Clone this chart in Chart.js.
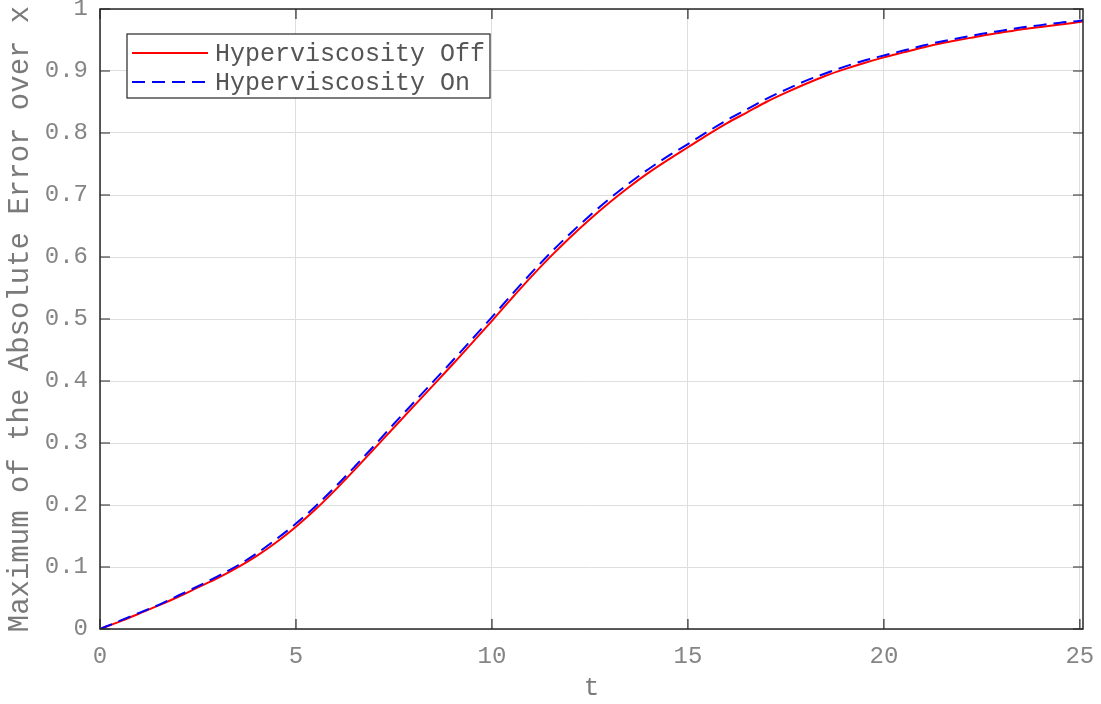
<!DOCTYPE html>
<html><head><meta charset="utf-8">
<script src="https://cdn.jsdelivr.net/npm/chart.js@4"></script>
<style>html,body{margin:0;padding:0;background:#fff}#wrap{width:1101px;height:704px}</style>
</head><body><div id="wrap"><canvas id="c" width="1101" height="704"></canvas></div>
<script>
const tValues = [0,0.5,1,1.5,2,2.5,3,3.5,4,4.5,5,5.5,6,6.5,7,7.5,8,8.5,9,9.5,10,10.5,11,11.5,12,12.5,13,13.5,14,14.5,15,15.5,16,16.5,17,17.5,18,18.5,19,19.5,20,20.5,21,21.5,22,22.5,23,23.5,24,24.5,25,25.08];
const offValues = [0,0.012,0.025,0.038,0.052,0.067,0.082,0.099,0.118,0.140,0.165,0.193,0.224,0.257,0.291,0.325,0.359,0.393,0.427,0.462,0.497,0.533,0.568,0.601,0.632,0.661,0.688,0.713,0.736,0.757,0.777,0.797,0.816,0.833,0.850,0.865,0.879,0.892,0.903,0.913,0.922,0.930,0.938,0.945,0.951,0.957,0.962,0.967,0.971,0.975,0.979,0.980];
const onValues = [0,0.013,0.026,0.039,0.054,0.069,0.085,0.102,0.122,0.145,0.170,0.198,0.229,0.262,0.296,0.331,0.365,0.399,0.433,0.468,0.503,0.539,0.574,0.607,0.638,0.667,0.694,0.719,0.742,0.763,0.782,0.802,0.821,0.838,0.855,0.870,0.884,0.896,0.907,0.917,0.925,0.933,0.941,0.948,0.954,0.960,0.965,0.970,0.974,0.978,0.981,0.982];
const xTicks = [0,5,10,15,20,25];
const yTicks = [0,0.1,0.2,0.3,0.4,0.5,0.6,0.7,0.8,0.9,1];
const yTickLabels = ['0','0.1','0.2','0.3','0.4','0.5','0.6','0.7','0.8','0.9','1'];
const seriesLabels = ['Hyperviscosity Off','Hyperviscosity On'];
const xTitle = 't';
const yTitle = 'Maximum of the Absolute Error over x';

const FONT = '"Liberation Mono", "Courier New", monospace';
const toPts = vals => tValues.map((t,i)=>({x:t,y:vals[i]}));

const boxPlugin = {
  id:'box',
  afterDraw(chart){
    const ctx = chart.ctx, a = chart.chartArea;
    const xs = chart.scales.x, ys = chart.scales.y;
    ctx.save();
    ctx.strokeStyle = '#262626';
    ctx.lineWidth = 1.5;
    ctx.strokeRect(a.left, a.top, a.right-a.left, a.bottom-a.top);
    ctx.lineWidth = 1.2;
    ctx.beginPath();
    const TL = 10;
    xTicks.forEach(v=>{
      const px = xs.getPixelForValue(v);
      ctx.moveTo(px, a.bottom); ctx.lineTo(px, a.bottom-TL);
      ctx.moveTo(px, a.top); ctx.lineTo(px, a.top+TL);
    });
    yTicks.forEach(v=>{
      const py = ys.getPixelForValue(v);
      ctx.moveTo(a.left, py); ctx.lineTo(a.left+TL, py);
      ctx.moveTo(a.right, py); ctx.lineTo(a.right-TL, py);
    });
    ctx.stroke();
    // legend
    const lx = a.left+27, ly = a.top+25, lw = 363, lh = 64;
    ctx.fillStyle = '#fff';
    ctx.fillRect(lx, ly, lw, lh);
    ctx.strokeStyle = '#262626';
    ctx.lineWidth = 1.2;
    ctx.strokeRect(lx, ly, lw, lh);
    [0,1].forEach((di,k)=>{
      const ds = chart.data.datasets[di];
      const yy = ly + 19 + k*29;
      ctx.strokeStyle = ds.borderColor;
      ctx.lineWidth = ds.borderWidth;
      ctx.setLineDash(ds.borderDash || []);
      ctx.beginPath(); ctx.moveTo(lx+5, yy); ctx.lineTo(lx+81, yy); ctx.stroke();
      ctx.setLineDash([]);
      ctx.fillStyle = '#555555';
      ctx.font = '25px ' + FONT;
      ctx.textBaseline = 'middle';
      ctx.textAlign = 'left';
      ctx.fillText(ds.label, lx+88, yy+1);
    });
    ctx.restore();
  }
};

new Chart(document.getElementById('c'), {
  type:'line',
  data:{datasets:[
    {label:seriesLabels[0], data:toPts(offValues), borderColor:'#ff0000', borderWidth:2, pointRadius:0, cubicInterpolationMode:'monotone', order:1},
    {label:seriesLabels[1], data:toPts(onValues), borderColor:'#0000ff', borderWidth:2, borderDash:[13,7], pointRadius:0, cubicInterpolationMode:'monotone', order:0}
  ]},
  options:{
    responsive:false, animation:false, devicePixelRatio:1,
    layout:{padding:{top:9,right:18,left:0,bottom:0}},
    plugins:{legend:{display:false}, tooltip:{enabled:false}},
    scales:{
      x:{type:'linear', min:0, max:25.08,
        afterBuildTicks:s=>{s.ticks = xTicks.map(v=>({value:v}));},
        afterFit:s=>{s.height = 75; s.paddingLeft = 0; s.paddingRight = 0;},
        ticks:{font:{family:FONT,size:24}, color:'#858585', padding:13, maxRotation:0, autoSkip:false, callback:v=>String(v)},
        grid:{color:'#dedede', lineWidth:1, drawTicks:false},
        border:{display:false},
        title:{display:true, text:xTitle, font:{family:FONT,size:26}, color:'#7a7a7a', padding:{top:0,bottom:0}}
      },
      y:{type:'linear', min:0, max:1,
        afterBuildTicks:s=>{s.ticks = yTicks.map(v=>({value:v}));},
        afterFit:s=>{s.width = 100; s.paddingTop = 0; s.paddingBottom = 0;},
        ticks:{font:{family:FONT,size:24}, color:'#858585', padding:12, autoSkip:false, callback:(v)=>yTickLabels[yTicks.indexOf(v)] ?? String(v)},
        grid:{color:'#dedede', lineWidth:1, drawTicks:false},
        border:{display:false},
        title:{display:true, text:yTitle, font:{family:FONT,size:29}, color:'#7a7a7a', padding:{top:3,bottom:0}}
      }
    }
  },
  plugins:[boxPlugin]
});
</script></body></html>
